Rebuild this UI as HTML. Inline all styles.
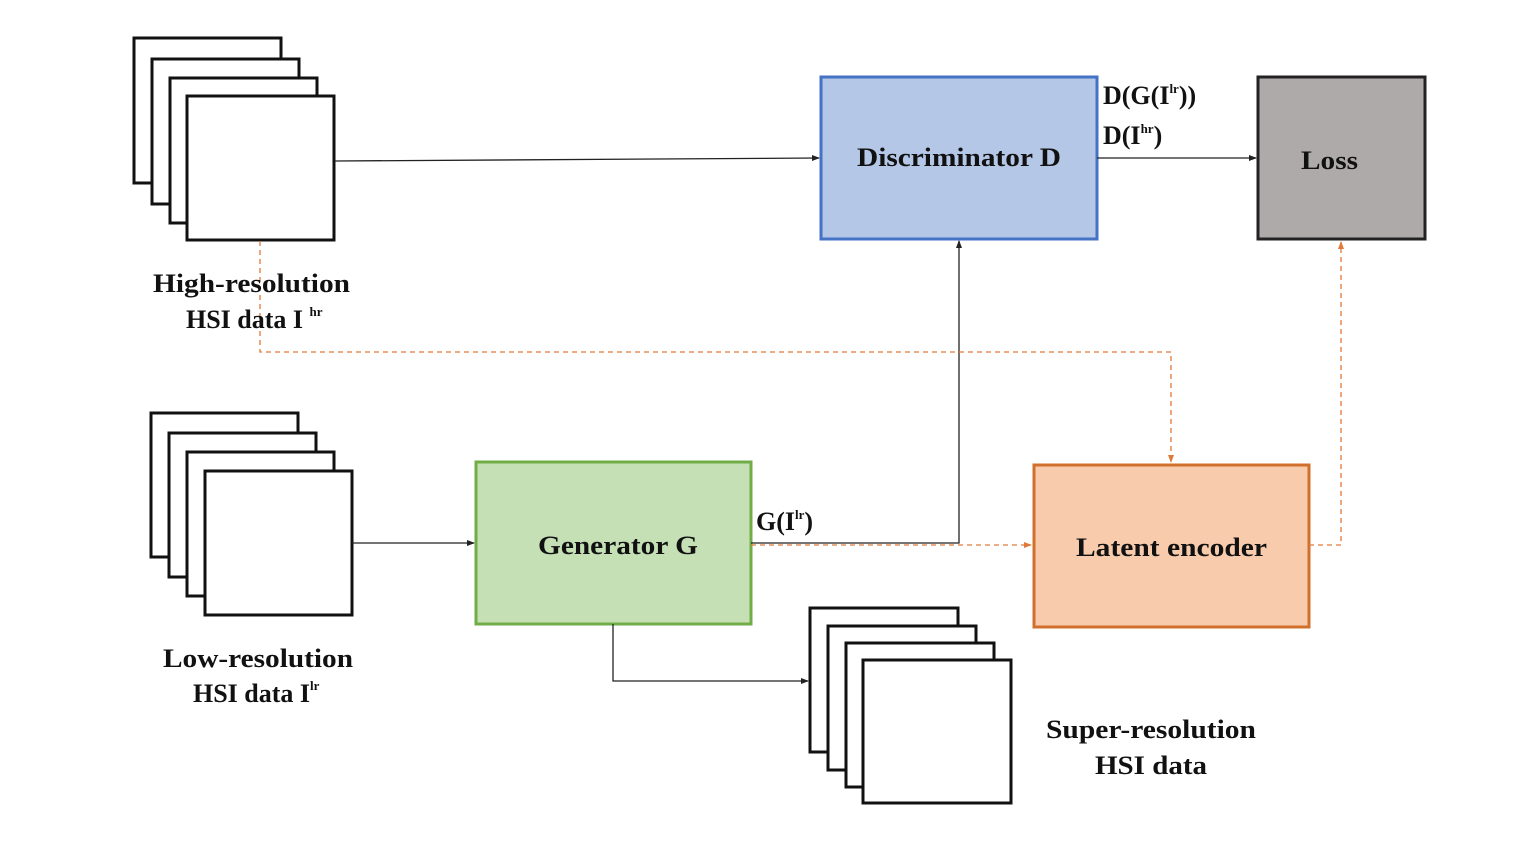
<!DOCTYPE html>
<html><head><style>
body{margin:0;background:#fff;}
svg text{font-family:"Liberation Serif","DejaVu Serif",serif;font-weight:bold;fill:#111;}
</style></head><body>
<svg width="1522" height="856" viewBox="0 0 1522 856" xmlns="http://www.w3.org/2000/svg">
<defs>
<marker id="ab" markerWidth="8" markerHeight="8" refX="7" refY="4" orient="auto" markerUnits="userSpaceOnUse"><path d="M0,1 L8,4 L0,7z" fill="#222"/></marker>
<marker id="ao" markerWidth="8" markerHeight="8" refX="7" refY="4" orient="auto" markerUnits="userSpaceOnUse"><path d="M0,1 L8,4 L0,7z" fill="#e07a3a"/></marker>
</defs>
<g fill="#fff" stroke="#111" stroke-width="3">
<rect x="134" y="38" width="147" height="145"/><rect x="152" y="59" width="147" height="145"/><rect x="170" y="78" width="147" height="145"/><rect x="187" y="96" width="147" height="144"/>
<rect x="151" y="413" width="147" height="144"/><rect x="169" y="433" width="147" height="144"/><rect x="187" y="452" width="147" height="144"/><rect x="205" y="471" width="147" height="144"/>
<rect x="810" y="608" width="148" height="144"/><rect x="828" y="626" width="148" height="144"/><rect x="846" y="643" width="148" height="144"/><rect x="863" y="660" width="148" height="143"/>
</g>
<rect x="821" y="77" width="276" height="162" fill="#b4c7e7" stroke="#4472c4" stroke-width="3"/>
<rect x="1258" y="77" width="167" height="162" fill="#aeaaaa" stroke="#222" stroke-width="3"/>
<rect x="476" y="462" width="275" height="162" fill="#c5e0b4" stroke="#70ad47" stroke-width="3"/>
<rect x="1034" y="465" width="275" height="162" fill="#f8cbad" stroke="#d0702c" stroke-width="3"/>
<g stroke="#222" stroke-width="1.3" fill="none">
<path d="M335,161 L819,158" marker-end="url(#ab)"/>
<path d="M1097,158 L1256,158" marker-end="url(#ab)"/>
<path d="M751,543 L959,543 L959,241" marker-end="url(#ab)"/>
<path d="M352,543 L474,543" marker-end="url(#ab)"/>
<path d="M613,624 L613,681 L808,681" marker-end="url(#ab)"/>
</g>
<g stroke="#e07a3a" stroke-width="1.3" fill="none" stroke-dasharray="5,4">
<path d="M260,241 L260,352 L1171,352 L1171,462" marker-end="url(#ao)"/>
<path d="M751,545 L1031,545" marker-end="url(#ao)"/>
<path d="M1309,545 L1341,545 L1341,242" marker-end="url(#ao)"/>
</g>
<text x="857" y="166" font-size="26" textLength="204" lengthAdjust="spacingAndGlyphs">Discriminator D</text>
<text x="1301" y="169" font-size="26" textLength="57" lengthAdjust="spacingAndGlyphs">Loss</text>
<text x="538" y="554" font-size="26" textLength="160" lengthAdjust="spacingAndGlyphs">Generator G</text>
<text x="1076" y="556" font-size="26" textLength="191" lengthAdjust="spacingAndGlyphs">Latent encoder</text>
<text x="1103" y="104" font-size="26">D(G(I<tspan font-size="13" dy="-11">lr</tspan><tspan dy="11">))</tspan></text>
<text x="1103" y="144" font-size="26">D(I<tspan font-size="13" dy="-11">hr</tspan><tspan dy="11">)</tspan></text>
<text x="756" y="530" font-size="26">G(I<tspan font-size="13" dy="-11">lr</tspan><tspan dy="11">)</tspan></text>
<text x="153" y="292" font-size="26" textLength="197" lengthAdjust="spacingAndGlyphs">High-resolution</text>
<text x="186" y="328" font-size="26">HSI data I <tspan font-size="13" dy="-12">hr</tspan></text>
<text x="163" y="667" font-size="26" textLength="190" lengthAdjust="spacingAndGlyphs">Low-resolution</text>
<text x="193" y="702" font-size="26">HSI data I<tspan font-size="13" dy="-12">lr</tspan></text>
<text x="1046" y="738" font-size="26" textLength="210" lengthAdjust="spacingAndGlyphs">Super-resolution</text>
<text x="1095" y="774" font-size="26" textLength="112" lengthAdjust="spacingAndGlyphs">HSI data</text>
</svg>
</body></html>
